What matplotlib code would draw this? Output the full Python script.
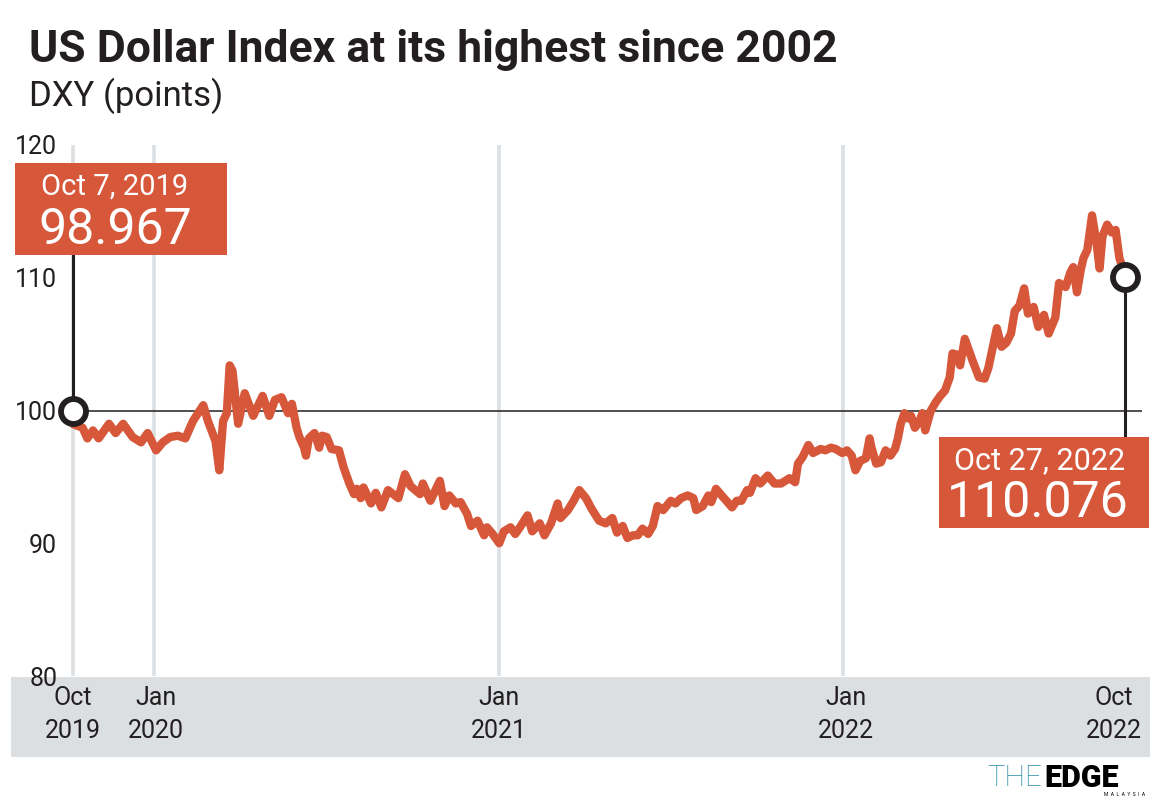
import matplotlib
matplotlib.use("Agg")
import matplotlib.pyplot as plt
import matplotlib.patches as patches
import pandas as pd

# ---------------------------------------------------------------------------
# Data: DXY readings taken off the chart
# ---------------------------------------------------------------------------
dates = [
    "2019-10-07", "2019-10-17", "2019-10-22", "2019-10-28", "2019-11-03", "2019-11-14",
    "2019-11-21", "2019-11-29", "2019-12-09", "2019-12-18", "2019-12-25",
    "2020-01-03", "2020-01-10", "2020-01-18", "2020-01-26", "2020-02-03", "2020-02-11",
    "2020-02-22", "2020-02-27", "2020-03-06", "2020-03-10", "2020-03-14", "2020-03-18",
    "2020-03-21", "2020-03-24", "2020-03-30", "2020-04-06", "2020-04-15", "2020-04-25",
    "2020-05-02", "2020-05-08", "2020-05-15", "2020-05-22", "2020-05-26", "2020-05-31",
    "2020-06-03", "2020-06-08", "2020-06-10", "2020-06-13", "2020-06-19", "2020-06-24",
    "2020-06-27", "2020-07-02", "2020-07-07", "2020-07-15", "2020-07-20", "2020-07-26",
    "2020-07-31", "2020-08-03", "2020-08-07", "2020-08-10", "2020-08-18", "2020-08-23",
    "2020-08-29", "2020-09-05", "2020-09-16", "2020-09-23", "2020-09-29", "2020-10-09",
    "2020-10-12", "2020-10-20", "2020-10-30", "2020-11-04", "2020-11-09", "2020-11-16",
    "2020-11-21", "2020-11-28", "2020-12-02", "2020-12-09", "2020-12-16", "2020-12-19",
    "2020-12-25",
    "2021-01-01", "2021-01-06", "2021-01-13", "2021-01-18", "2021-01-23", "2021-01-31",
    "2021-02-05", "2021-02-13", "2021-02-18", "2021-02-25", "2021-03-04", "2021-03-07",
    "2021-03-15", "2021-03-21", "2021-03-27", "2021-04-03", "2021-04-09", "2021-04-17",
    "2021-04-24", "2021-05-01", "2021-05-06", "2021-05-12", "2021-05-17", "2021-05-23",
    "2021-05-28", "2021-06-02", "2021-06-08", "2021-06-13", "2021-06-18", "2021-06-24",
    "2021-07-02", "2021-07-07", "2021-07-13", "2021-07-20", "2021-07-26", "2021-07-29",
    "2021-08-05", "2021-08-11", "2021-08-14", "2021-08-19", "2021-08-25", "2021-08-30",
    "2021-09-05", "2021-09-10", "2021-09-15", "2021-09-21", "2021-09-24", "2021-09-30",
    "2021-10-05", "2021-10-13", "2021-10-20", "2021-10-27", "2021-11-05", "2021-11-11",
    "2021-11-14", "2021-11-19", "2021-11-25", "2021-11-30", "2021-12-08", "2021-12-13",
    "2021-12-19", "2021-12-24", "2021-12-31",
    "2022-01-05", "2022-01-10", "2022-01-14", "2022-01-19", "2022-01-25", "2022-01-29",
    "2022-01-31", "2022-02-05", "2022-02-10", "2022-02-15", "2022-02-20", "2022-02-25",
    "2022-02-28", "2022-03-03", "2022-03-07", "2022-03-11", "2022-03-14", "2022-03-18",
    "2022-03-23", "2022-03-26", "2022-03-29", "2022-04-04", "2022-04-09", "2022-04-14",
    "2022-04-19", "2022-04-24", "2022-04-27", "2022-05-02", "2022-05-05", "2022-05-10",
    "2022-05-18", "2022-05-25", "2022-05-31", "2022-06-04", "2022-06-13", "2022-06-18",
    "2022-06-23", "2022-06-28", "2022-07-02", "2022-07-07", "2022-07-12", "2022-07-16",
    "2022-07-22", "2022-07-27", "2022-08-02", "2022-08-07", "2022-08-14", "2022-08-18",
    "2022-08-25", "2022-08-30", "2022-09-02", "2022-09-06", "2022-09-10", "2022-09-13",
    "2022-09-17", "2022-09-22", "2022-09-27", "2022-09-30", "2022-10-03", "2022-10-08",
    "2022-10-13", "2022-10-17", "2022-10-21", "2022-10-25", "2022-10-27",
]
dxy = [
    98.97, 98.7, 97.9, 98.5, 97.9, 99.0,
    98.3, 99.0, 98.0, 97.6, 98.3,
    97.0, 97.6, 98.0, 98.1, 97.9, 99.2,
    100.4, 99.2, 97.7, 95.5, 99.2, 99.8,
    103.4, 103.0, 99.0, 101.3, 99.6, 101.1,
    99.6, 100.8, 101.0, 99.8, 100.5, 98.7,
    98.0, 97.2, 96.6, 97.9, 98.3, 97.2,
    98.1, 98.0, 97.1, 97.0, 95.7, 94.5,
    93.7, 94.1, 93.4, 94.2, 93.0, 93.8,
    92.7, 94.0, 93.4, 95.2, 94.3, 93.7,
    94.5, 93.2, 94.7, 92.8, 93.6, 93.0,
    93.1, 92.2, 91.3, 91.7, 90.6, 91.2,
    90.7,
    90.0, 90.9, 91.2, 90.7, 91.2, 92.1,
    90.9, 91.5, 90.6, 91.5, 93.0, 91.9,
    92.5, 93.2, 94.0, 93.4, 92.6, 91.7,
    91.5, 91.9, 90.8, 91.3, 90.4, 90.6,
    90.6, 91.1, 90.7, 91.3, 92.8, 92.5,
    93.2, 93.0, 93.4, 93.6, 93.4, 92.5,
    92.8, 93.6, 93.1, 94.1, 93.6, 93.2,
    92.7, 93.2, 93.2, 94.0, 93.8, 94.9,
    94.5, 95.1, 94.5, 94.5, 94.9, 94.6,
    96.0, 96.5, 97.4, 96.8, 97.1, 97.0,
    97.2, 97.1, 96.8,
    97.0, 96.6, 95.5, 96.2, 96.4, 97.9,
    97.2, 96.0, 96.1, 97.0, 96.6, 97.1,
    97.9, 99.0, 99.8, 99.4, 99.6, 98.7,
    99.2, 99.8, 98.5, 100.0, 100.6, 101.1,
    101.5, 102.5, 104.3, 104.2, 103.4, 105.4,
    103.8, 102.5, 102.4, 103.2, 106.2, 104.8,
    105.1, 105.8, 107.5, 107.9, 109.2, 107.3,
    107.8, 106.3, 107.2, 105.8, 107.0, 109.6,
    109.3, 110.4, 110.8, 108.9, 110.6, 111.5,
    112.1, 114.7, 112.5, 110.7, 113.1, 114.0,
    113.4, 113.6, 111.5, 110.6, 110.08,
]

start_date, start_label, start_value = "2019-10-07", "Oct 7, 2019", "98.967"
end_date, end_label, end_value = "2022-10-27", "Oct 27, 2022", "110.076"
start_marker_y = 100.0    # circle sits on the 100 line in the original
end_marker_y = 110.076

y_ticks = [80, 90, 100, 110, 120]
grid_dates = ["2019-10-07", "2020-01-01", "2021-01-01", "2022-01-01"]
x_tick_dates = ["2019-10-07", "2020-01-03", "2021-01-01", "2022-01-04", "2022-10-15"]
x_tick_labels = ["Oct\n2019", "Jan\n2020", "Jan\n2021", "Jan\n2022", "Oct\n2022"]

ORANGE = "#D6573A"
GRID = "#DDE0E3"
BAND = "#DCDFE2"
INK = "#231F20"

W, H = 1167, 800
plt.rcParams["font.family"] = ["Roboto", "DejaVu Sans"]

x = pd.to_datetime(dates)
d0 = pd.Timestamp(start_date)
d1 = pd.Timestamp(end_date)


def fx(px):
    return px / W


def fy(py):
    return 1 - py / H


fig = plt.figure(figsize=(W / 100, H / 100), dpi=100)

# grey date band (behind the axes so tick labels sit on top)
fig.patches.append(patches.Rectangle((fx(11), fy(757)), fx(1150) - fx(11), (757 - 677) / H,
                                     transform=fig.transFigure, facecolor=BAND,
                                     edgecolor="none", zorder=-1))

ax = fig.add_axes([fx(60), fy(676), fx(1142) - fx(60), (676 - 145) / H])
ax.set_facecolor("none")
ax.set_xlim(d0 - pd.Timedelta(days=14), d0 + pd.Timedelta(days=1134))
ax.set_ylim(80, 120)
for s in ax.spines.values():
    s.set_visible(False)

for g in grid_dates:
    ax.axvline(pd.Timestamp(g), color=GRID, lw=2.6, zorder=1)

ax.hlines(100, d0, ax.get_xlim()[1], color=INK, lw=1.1, zorder=2)

ax.plot(x, dxy, color=ORANGE, lw=6.0, solid_joinstyle="round",
        solid_capstyle="round", zorder=3)

ax.set_yticks(y_ticks)
ax.set_yticklabels([str(v) for v in y_ticks], fontsize=18, color=INK)
ax.tick_params(axis="y", length=0, pad=2)
ax.set_xticks(pd.to_datetime(x_tick_dates))
ax.set_xticklabels(x_tick_labels, fontsize=18, color=INK, linespacing=1.5)
ax.tick_params(axis="x", length=0, pad=7)

# connector lines and circles
ax.plot([d0, d0], [start_marker_y, 111.7], color=INK, lw=2.2, zorder=4, clip_on=False)
ax.plot([d1, d1], [end_marker_y, 97.96], color=INK, lw=2.2, zorder=4, clip_on=False)
ax.plot([d0, d1], [start_marker_y, end_marker_y], ls="none", marker="o", ms=18,
        mfc="white", mec=INK, mew=4.2, zorder=5, clip_on=False)

# annotation boxes
fig.patches.append(patches.Rectangle((fx(15), fy(255)), fx(227) - fx(15), (255 - 163) / H,
                                     transform=fig.transFigure, facecolor=ORANGE,
                                     edgecolor="none", zorder=6))
fig.text(fx(115), fy(187), start_label, color="white", fontsize=21, ha="center",
         va="center", zorder=7)
fig.text(fx(115), fy(230), start_value, color="white", fontsize=36, ha="center",
         va="center", zorder=7)

fig.patches.append(patches.Rectangle((fx(939), fy(528)), fx(1149) - fx(939), (528 - 437) / H,
                                     transform=fig.transFigure, facecolor=ORANGE,
                                     edgecolor="none", zorder=6))
fig.text(fx(1040), fy(461), end_label, color="white", fontsize=22, ha="center",
         va="center", zorder=7)
fig.text(fx(1038), fy(503), end_value, color="white", fontsize=36, ha="center",
         va="center", zorder=7)

# titles
fig.text(fx(29), fy(50), "US Dollar Index at its highest since 2002", fontsize=32,
         fontweight="bold", color=INK, ha="left", va="center")
fig.text(fx(29), fy(96), "DXY (points)", fontsize=25, color=INK,
         ha="left", va="center")

# logo
fig.text(fx(1042), fy(778), "THE", fontsize=21, color="#2C8FA8", ha="right",
         va="center", fontweight="light")
fig.text(fx(1044), fy(778), "EDGE", fontsize=22, color="black", ha="left",
         va="center", fontweight="heavy")
fig.text(fx(1145), fy(794), "M  A  L  A  Y  S  I  A", fontsize=3.5, color="black",
         ha="right", va="center")

fig.savefig("out.png", dpi=100)
